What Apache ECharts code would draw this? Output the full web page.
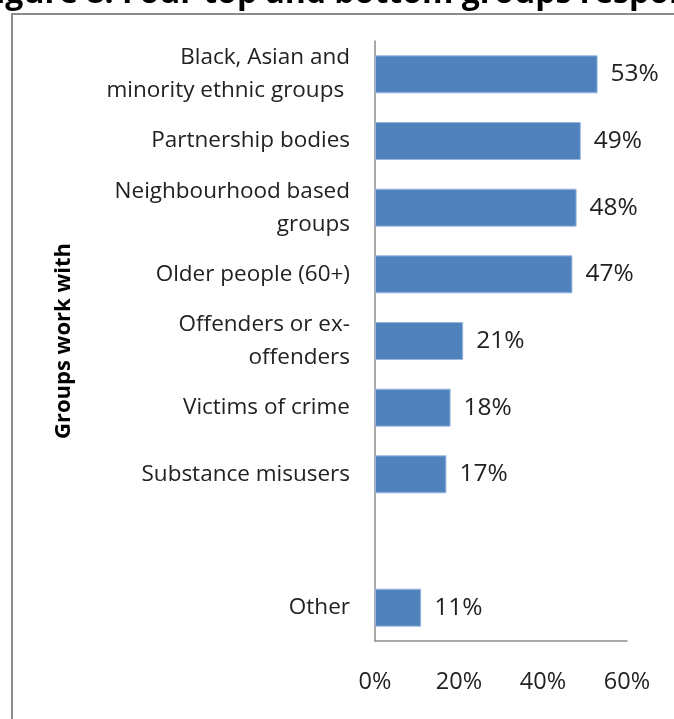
<!DOCTYPE html>
<html>
<head>
<meta charset="utf-8">
<script src="https://cdn.jsdelivr.net/npm/echarts@6/dist/echarts.min.js"></script>
<style>
  html, body { margin: 0; padding: 0; background: #fff; }
  #chart { width: 674px; height: 719px; }
</style>
</head>
<body>
<div id="chart"></div>
<script>
// groups, top to bottom; the empty one is the gap above "Other"
const categories = [
  "Black, Asian and\nminority ethnic groups ",
  "Partnership bodies",
  "Neighbourhood based\ngroups",
  "Older people (60+)",
  "Offenders or ex-\noffenders",
  "Victims of crime",
  "Substance misusers",
  "",
  "Other"
];
const shares = [53, 49, 48, 47, 21, 18, 17, null, 11];
const xTicks = [0, 20, 40, 60];

const FONT = "'Open Sans', 'Noto Sans', sans-serif";

let myChart = echarts.init(document.getElementById("chart"));

let option = {
  animation: false,
  textStyle: { fontFamily: FONT },
  graphic: [
    {
      type: "rect",
      shape: { x: 12, y: 14, width: 700, height: 740 },
      style: { fill: "none", stroke: "#8c8c8c", lineWidth: 2 },
      z: -1
    },
    {
      type: "text",
      left: -22,
      top: -22,
      style: {
        text: "Figure 8: Four top and bottom groups respondents work with",
        fontFamily: FONT,
        fontWeight: "bold",
        fontSize: 32,
        fill: "#000"
      }
    }
  ],
  grid: {
    left: 375,
    right: 47,
    top: 41,
    bottom: 78,
    containLabel: false
  },
  xAxis: {
    type: "value",
    min: 0,
    max: 60,
    interval: 20,
    axisLine: { show: true, lineStyle: { color: "#8c8c8c", width: 1.5 } },
    axisTick: { show: false },
    splitLine: { show: false },
    axisLabel: {
      color: "#222",
      fontSize: 23.5,
      margin: 29,
      formatter: v => (xTicks.includes(v) ? v + "%" : "")
    }
  },
  yAxis: {
    type: "category",
    inverse: true,
    data: categories,
    name: "Groups work with",
    nameLocation: "middle",
    nameGap: 300,
    nameRotate: 90,
    nameTextStyle: {
      color: "#000",
      fontSize: 22,
      fontWeight: "bold",
      fontFamily: FONT
    },
    axisLine: { show: true, lineStyle: { color: "#8c8c8c", width: 1.5 } },
    axisTick: { show: false },
    axisLabel: {
      color: "#222",
      fontSize: 22.5,
      lineHeight: 33,
      margin: 25,
      align: "right"
    }
  },
  series: [
    {
      type: "bar",
      data: shares,
      barWidth: 38,
      itemStyle: {
        color: "#4f81bd",
        borderColor: "#9bb9df",
        borderWidth: 1
      },
      label: {
        show: true,
        position: "right",
        distance: 13,
        color: "#222",
        fontSize: 24.5,
        fontFamily: FONT,
        formatter: p => p.value + "%"
      }
    }
  ]
};
myChart.setOption(option);
window.addEventListener("resize", () => myChart.resize(), false);
</script>
</body>
</html>
